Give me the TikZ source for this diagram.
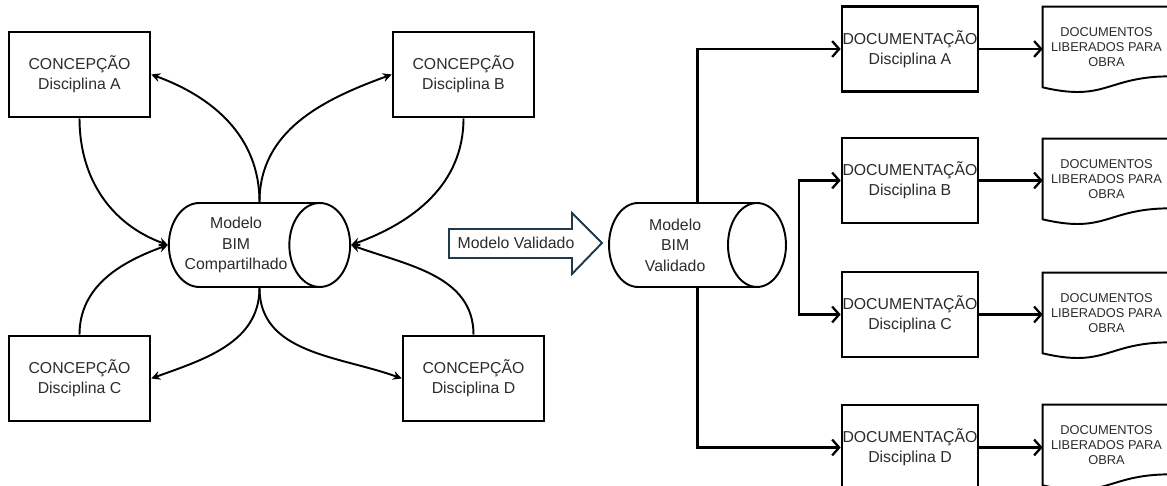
\documentclass[tikz,border=0pt]{standalone}
\usepackage{fontspec}
\setmainfont{Liberation Sans}
\usetikzlibrary{shapes.geometric, arrows.meta, positioning}
\definecolor{arrowblue}{HTML}{1F3A4B}
\definecolor{txtgray}{HTML}{2B2B2B}

\tikzset{
  concbox/.style={draw, line width=1.5pt, minimum width=2.82cm, minimum height=1.7cm,
    align=center, text=txtgray, font=\fontsize{9}{11.5}\selectfont},
  docbox/.style={concbox, minimum width=2.72cm, inner xsep=0pt},
  bim/.style={cylinder, draw, line width=1.1pt, minimum height=3.54cm, minimum width=1.68cm,
    aspect=0.9, inner xsep=0.5pt, align=center, text=txtgray,
    font=\fontsize{9}{11.7}\selectfont, anchor=shape center},
  liberado/.style={minimum width=2.54cm, minimum height=1.6cm, inner sep=0pt,
    align=center, text=txtgray, font=\fontsize{7.3}{8.6}\selectfont},
  folha/.style={line width=1.1pt},
  troca/.style={line width=1.1pt, -{Stealth[length=5pt,width=5pt]}},
  fluxo/.style={line width=1.3pt, -{Straight Barb[length=4pt,width=9pt]}},
}

\begin{document}
\begin{tikzpicture}[x=0.02cm, y=0.02cm]
\useasboundingbox (0,0) rectangle (1167,486);
\clip (0,0) rectangle (1167,486);

% concepcao das disciplinas
\node[concbox] (concA) at (79.5,411.5) {CONCEPÇÃO\\Disciplina A};
\node[concbox] (concB) at (463.5,411.5) {CONCEPÇÃO\\Disciplina B};
\node[concbox] (concC) at (79.5,107.5) {CONCEPÇÃO\\Disciplina C};
\node[concbox] (concD) at (473.5,107.5) {CONCEPÇÃO\\Disciplina D};

\node[bim] (bimC) at (259.5,241) {Modelo\\BIM\\Compartilhado};
\coordinate (bimCtopo) at (bimC.shape center |- bimC.north);
\coordinate (bimCbase) at (bimC.shape center |- bimC.south);

\draw[troca] (concA.south) to[out=-90, in=160] (bimC.west);
\draw[troca] (concC.north) to[out=90, in=200] (bimC.west);
\draw[troca] (bimCtopo) to[out=90, in=-20] (concA.east);
\draw[troca] (bimCtopo) to[out=90, in=200] (concB.west);
\draw[troca] (concB.south) to[out=-90, in=20] (bimC.east);
\draw[troca] (concD.north) to[out=90, in=-20] (bimC.east);
\draw[troca] (bimCbase) to[out=-90, in=20] (concC.east);
\draw[troca] (bimCbase) to[out=-90, in=160] (concD.west);

% seta grande
\draw[line width=1.1pt, draw=arrowblue, fill=white]
  (449,257) -- (572,257) -- (572,273) -- (602,243) -- (572,212) -- (572,228) -- (449,228) -- cycle;
\node[text=txtgray, font=\fontsize{9}{11}\selectfont] (validado) at (516,243) {Modelo Validado};

\node[bim] (bimV) at (697.5,241) {Modelo\\BIM\\Validado};
\coordinate (bimVtopo) at (bimV.shape center |- bimV.north);
\coordinate (bimVbase) at (bimV.shape center |- bimV.south);

% documentacao
\node[docbox] (docA) at (910,437) {DOCUMENTAÇÃO\\Disciplina A};
\node[docbox] (docB) at (910,305.5) {DOCUMENTAÇÃO\\Disciplina B};
\node[docbox] (docC) at (910,171.5) {DOCUMENTAÇÃO\\Disciplina C};
\node[docbox] (docD) at (910,38.5) {DOCUMENTAÇÃO\\Disciplina D};

\coordinate (ramal) at (799,241);
\draw[fluxo] (bimVtopo) |- (docA.west);
\draw[fluxo] (ramal) |- (docB.west);
\draw[fluxo] (ramal) |- (docC.west);
\draw[fluxo] (bimVbase) |- (docD.west);

% documentos liberados
\node[liberado] (libA) at (1106.5,439) {DOCUMENTOS\\LIBERADOS PARA\\OBRA};
\node[liberado] (libB) at (1106.5,307) {DOCUMENTOS\\LIBERADOS PARA\\OBRA};
\node[liberado] (libC) at (1106.5,173) {DOCUMENTOS\\LIBERADOS PARA\\OBRA};
\node[liberado] (libD) at (1106.5,41) {DOCUMENTOS\\LIBERADOS PARA\\OBRA};

\draw[folha] (libA.north west) -- (libA.north east) -- ([yshift=0.22cm]libA.south east)
  .. controls ([yshift=0.22cm]libA.south) and ([yshift=-0.3cm]libA.south) .. (libA.south west) -- cycle;
\draw[folha] (libB.north west) -- (libB.north east) -- ([yshift=0.22cm]libB.south east)
  .. controls ([yshift=0.22cm]libB.south) and ([yshift=-0.3cm]libB.south) .. (libB.south west) -- cycle;
\draw[folha] (libC.north west) -- (libC.north east) -- ([yshift=0.22cm]libC.south east)
  .. controls ([yshift=0.22cm]libC.south) and ([yshift=-0.3cm]libC.south) .. (libC.south west) -- cycle;
\draw[folha] (libD.north west) -- (libD.north east) -- ([yshift=0.22cm]libD.south east)
  .. controls ([yshift=0.22cm]libD.south) and ([yshift=-0.3cm]libD.south) .. (libD.south west) -- cycle;

\draw[fluxo] (docA.east) -- (docA.east -| libA.west);
\draw[fluxo] (docB.east) -- (docB.east -| libB.west);
\draw[fluxo] (docC.east) -- (docC.east -| libC.west);
\draw[fluxo] (docD.east) -- (docD.east -| libD.west);
\end{tikzpicture}
\end{document}
